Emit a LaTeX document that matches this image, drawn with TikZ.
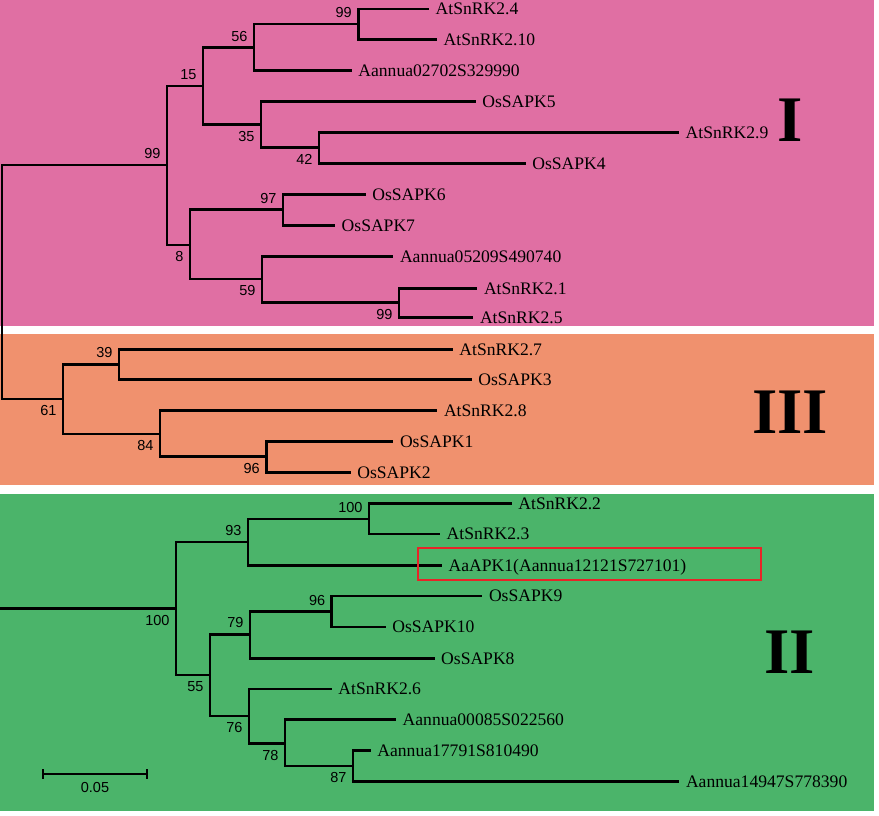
\documentclass[tikz,border=0pt]{standalone}
\usepackage{fontspec}
\setmainfont{Liberation Serif}
\setsansfont{Liberation Sans}
\usepackage{tikz}

\definecolor{cladeI}{RGB}{224,111,163}
\definecolor{cladeIII}{RGB}{240,145,110}
\definecolor{cladeII}{RGB}{75,180,106}
\definecolor{boxred}{RGB}{232,36,40}

\begin{document}
\begin{tikzpicture}[x=1pt,y=-1pt,
    br/.style={line width=2.7pt,line join=miter},
    leaf/.style={anchor=west,inner xsep=6.5pt,inner ysep=0pt,text height=11.6pt,text depth=0pt,font=\fontsize{17.6}{20}\selectfont},
    bs/.style={inner sep=0pt,outer sep=6.5pt,text height=10.4pt,text depth=0pt,font=\sffamily\fontsize{14.5}{16}\selectfont},
    up/.style={bs,anchor=south east},
    dn/.style={bs,anchor=north east},
    clade/.style={inner sep=0pt,text height=44pt,text depth=0pt,font=\bfseries\fontsize{65}{70}\selectfont},
    ]
    \useasboundingbox[fill=white] (0,0) rectangle (879,816);
    \fill[cladeI] (0,0) rectangle (874,326);
    \fill[cladeIII] (0,334) rectangle (874,485);
    \fill[cladeII] (0,494) rectangle (874,811);

    % inner nodes
    \coordinate (root) at (2,282);
    \coordinate (nI) at (167,165);
    \coordinate (n15) at (203,86);
    \coordinate (n56) at (254,47.7);
    \coordinate (n99a) at (358.3,24);
    \coordinate (n35) at (261,124.7);
    \coordinate (n42) at (319,147.7);
    \coordinate (n8) at (190,245);
    \coordinate (n97) at (283,209.7);
    \coordinate (n59) at (262,279);
    \coordinate (n99b) at (399,302.3);
    \coordinate (n61) at (63,399);
    \coordinate (n39) at (119,364.3);
    \coordinate (n84) at (160,434);
    \coordinate (n96a) at (266.3,456.7);
    \coordinate (iiroot) at (0,608.3);
    \coordinate (n100a) at (176,608.3);
    \coordinate (n93) at (248,542);
    \coordinate (n100b) at (369,519);
    \coordinate (n55) at (210,675);
    \coordinate (n79) at (250,634.3);
    \coordinate (n96b) at (331.7,611.7);
    \coordinate (n76) at (249,716);
    \coordinate (n78) at (285,743.3);
    \coordinate (n87) at (353,766);

    % leaves
    \node[leaf] (at24) at (429,9) {AtSnRK2.4};
    \node[leaf] (at210) at (437,39.3) {AtSnRK2.10};
    \node[leaf] (aa027) at (351.7,70.7) {Aannua02702S329990};
    \node[leaf] (os5) at (475.7,101.7) {OsSAPK5};
    \node[leaf] (at29) at (679,132.3) {AtSnRK2.9};
    \node[leaf] (os4) at (525.7,163.3) {OsSAPK4};
    \node[leaf] (os6) at (365.7,194.3) {OsSAPK6};
    \node[leaf] (os7) at (335,225.3) {OsSAPK7};
    \node[leaf] (aa052) at (393.3,256.3) {Aannua05209S490740};
    \node[leaf] (at21) at (477.3,288.3) {AtSnRK2.1};
    \node[leaf] (at25) at (473.3,317.7) {AtSnRK2.5};
    \node[leaf] (at27) at (452.7,349.3) {AtSnRK2.7};
    \node[leaf] (os3) at (471.7,379.7) {OsSAPK3};
    \node[leaf] (at28) at (437.3,410.3) {AtSnRK2.8};
    \node[leaf] (os1) at (393.3,441.7) {OsSAPK1};
    \node[leaf] (os2) at (350.7,472.3) {OsSAPK2};
    \node[leaf] (at22) at (511.7,503.3) {AtSnRK2.2};
    \node[leaf] (at23) at (440,534) {AtSnRK2.3};
    \node[leaf] (aapk) at (442,565.7) {AaAPK1(Aannua12121S727101)};
    \node[leaf] (os9) at (482.3,596) {OsSAPK9};
    \node[leaf] (os10) at (385.7,627) {OsSAPK10};
    \node[leaf] (os8) at (434.5,658.3) {OsSAPK8};
    \node[leaf] (at26) at (331.7,689) {AtSnRK2.6};
    \node[leaf] (aa000) at (396,719.3) {Aannua00085S022560};
    \node[leaf] (aa177) at (370.7,750.7) {Aannua17791S810490};
    \node[leaf] (aa149) at (679.3,781.7) {Aannua14947S778390};

    % branches
    \foreach \a/\b in {root/nI,root/n61,nI/n15,nI/n8,n15/n56,n15/n35,n56/n99a,n35/n42,
        n8/n97,n8/n59,n59/n99b,n61/n39,n61/n84,n84/n96a,n100a/n93,n100a/n55,n93/n100b,
        n55/n79,n55/n76,n79/n96b,n76/n78,n78/n87}
        \draw[br] (\a) |- (\b);
    \foreach \a/\b in {n99a/at24,n99a/at210,n56/aa027,n35/os5,n42/at29,n42/os4,n97/os6,n97/os7,
        n59/aa052,n99b/at21,n99b/at25,n39/at27,n39/os3,n84/at28,n96a/os1,n96a/os2,
        n100b/at22,n100b/at23,n93/aapk,n96b/os9,n96b/os10,n79/os8,n76/at26,n78/aa000,
        n87/aa177,n87/aa149}
        \draw[br] (\a) |- (\b.west);
    \draw[br] (iiroot) -- (n100a);

    % bootstrap values
    \node[up] at (nI) {99};
    \node[up] at (n15) {15};
    \node[up] at (n56) {56};
    \node[up] at (n99a) {99};
    \node[dn] at (n35) {35};
    \node[dn] at (n42) {42};
    \node[dn] at (n8) {8};
    \node[up] at (n97) {97};
    \node[dn] at (n59) {59};
    \node[dn] at (n99b) {99};
    \node[dn] at (n61) {61};
    \node[up] at (n39) {39};
    \node[dn] at (n84) {84};
    \node[dn] at (n96a) {96};
    \node[dn] at (n100a) {100};
    \node[up] at (n93) {93};
    \node[up] at (n100b) {100};
    \node[dn] at (n55) {55};
    \node[up] at (n79) {79};
    \node[up] at (n96b) {96};
    \node[dn] at (n76) {76};
    \node[dn] at (n78) {78};
    \node[dn] at (n87) {87};

    \draw[boxred,line width=1.7pt] (418.3,548.3) rectangle (761,580);

    \node[clade] (cI) at (790,120) {I};
    \node[clade] (cIII) at (790,411) {III};
    \node[clade] (cII) at (790,651) {II};

    % scale bar
    \coordinate (sb1) at (43,774);
    \coordinate (sb2) at (147,774);
    \draw[line width=1.2pt] (sb1) -- (sb2) ([yshift=5pt]sb1) -- ([yshift=-5pt]sb1) ([yshift=5pt]sb2) -- ([yshift=-5pt]sb2);
    \node[bs,outer sep=0pt,anchor=north] (sbl) at (95,782) {0.05};
\end{tikzpicture}
\end{document}
